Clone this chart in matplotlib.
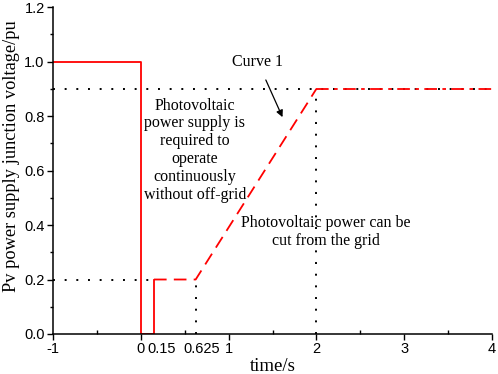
import matplotlib
matplotlib.use("Agg")
import matplotlib.pyplot as plt
import matplotlib.transforms as mtransforms
from matplotlib.ticker import MultipleLocator

# Data
solid_x = [-1, 0, 0, 0.15, 0.15]
solid_y = [1.0, 1.0, 0.0, 0.0, 0.2]
dash_x = [0.15, 0.625, 2]
dash_y = [0.2, 0.2, 0.9]
dashdot_x = [2, 4]
dashdot_y = [0.9, 0.9]
ref_h1_x = [-1, 4]; ref_h1_y = [0.9, 0.9]
ref_h2_x = [-1, 0.15]; ref_h2_y = [0.2, 0.2]
ref_v1_x = [0.625, 0.625]; ref_v1_y = [0.0, 0.2]
ref_v2_x = [2, 2]; ref_v2_y = [0.0, 0.9]
xticks = [-1, 0, 0.15, 0.625, 1, 2, 3, 4]
xticklabels = ["-1", "0", "0.15", "0.625", "1", "2", "3", "4"]
yticks = [0.0, 0.2, 0.4, 0.6, 0.8, 1.0, 1.2]
yticklabels = ["0.0", "0.2", "0.4", "0.6", "0.8", "1.0", "1.2"]

serif = "Liberation Serif"
sans = "Liberation Sans"

fig = plt.figure(figsize=(4.98, 3.74), dpi=100)
ax = fig.add_axes([0.1064, 0.107, 0.8816, 0.874])

dot = (0, (1, 5))
ax.plot(ref_h1_x, ref_h1_y, color="black", lw=1.4, linestyle=dot)
ax.plot(ref_h2_x, ref_h2_y, color="black", lw=1.4, linestyle=dot)
ax.plot(ref_v1_x, ref_v1_y, color="black", lw=1.4, linestyle=dot)
ax.plot(ref_v2_x, ref_v2_y, color="black", lw=1.4, linestyle=dot)

ax.plot(solid_x, solid_y, color="#ff0000", lw=1.3)
ax.plot(dash_x, dash_y, color="#ff0000", lw=1.3, linestyle=(0, (7, 4)))
ax.plot(dashdot_x, dashdot_y, color="#ff0000", lw=1.3, linestyle=(0, (7, 3, 2, 3)))

ax.set_xlim(-1, 4)
ax.set_ylim(0, 1.2)
ax.set_xticks(xticks)
ax.set_xticklabels(xticklabels, fontfamily=sans, fontsize=10.5)
ax.set_yticks(yticks)
ax.set_yticklabels(yticklabels, fontfamily=sans, fontsize=10.5)
ax.xaxis.set_minor_locator(MultipleLocator(0.5))
ax.yaxis.set_minor_locator(MultipleLocator(0.1))
ax.tick_params(axis="x", which="major", direction="out", length=4, width=1)
ax.tick_params(axis="x", which="minor", direction="in", length=3, width=1)
ax.tick_params(axis="y", which="major", direction="out", length=4, width=1, pad=2)
ax.tick_params(axis="y", which="minor", direction="out", length=2, width=1)
offsets = {0.15: 8, 0.625: 6}
for i, t in enumerate(ax.xaxis.get_major_ticks()):
    t.set_pad(2)
    if xticks[i] in offsets:
        t.tick1line.set_visible(False)
for lab, v in zip(ax.get_xticklabels(), xticks):
    if v in offsets:
        lab.set_transform(lab.get_transform() +
                          mtransforms.ScaledTranslation(offsets[v] / 100, 0, fig.dpi_scale_trans))

for s in ["top", "right"]:
    ax.spines[s].set_visible(False)
for s in ["left", "bottom"]:
    ax.spines[s].set_linewidth(1.1)

ax.set_xlabel("time/s", fontfamily=serif, fontsize=13.5, labelpad=1)
ax.set_ylabel("Pv power supply junction voltage/pu", fontfamily=serif, fontsize=13.2)
ax.yaxis.set_label_coords(-0.095, 0.544)
ax.yaxis.label.set_va("center")

ax.text(0.614, 0.675, "Photovoltaic\npower supply is\nrequired to\noperate\ncontinuously\nwithout off-grid",
        ha="center", va="center", fontfamily=serif, fontsize=11.5, linespacing=1.15)
ax.text(2.11, 0.374, "Photovoltaic power can be\ncut from the grid",
        ha="center", va="center", fontfamily=serif, fontsize=11.5, linespacing=1.15)
ax.annotate("Curve 1", xy=(1.614, 0.796), xytext=(1.33, 1.0),
            ha="center", va="center", fontfamily=serif, fontsize=11.5,
            arrowprops=dict(arrowstyle="-|>", color="black", lw=0.9, mutation_scale=10,
                            shrinkA=6, shrinkB=0))

fig.savefig("out.png", dpi=100)
